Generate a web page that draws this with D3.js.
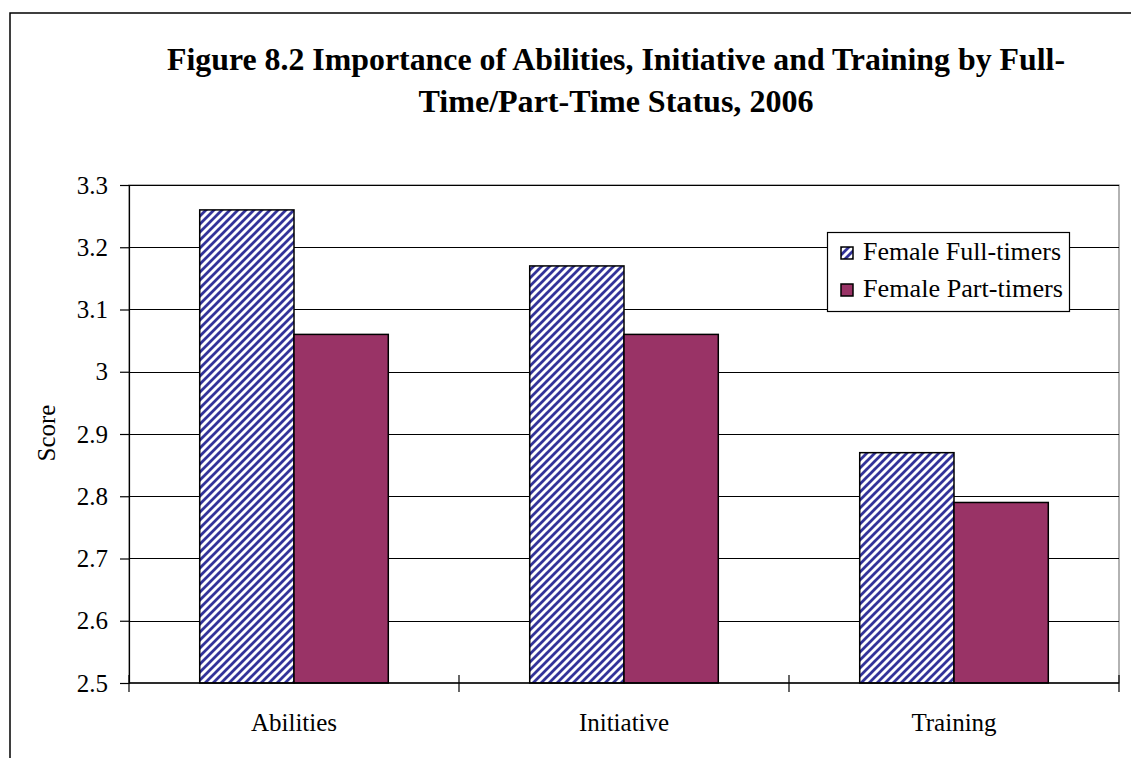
<!DOCTYPE html>
<html>
<head>
<meta charset="utf-8">
<script src="https://cdn.jsdelivr.net/npm/d3@7"></script>
<style>
  html, body { margin: 0; padding: 0; background: #fff; }
  svg { display: block; }
  text { font-family: "Liberation Serif", "Times New Roman", serif; fill: #000; }
</style>
</head>
<body>
<svg id="chart" width="1131" height="758"></svg>
<script>
// ---- data ----
const categories = ["Abilities", "Initiative", "Training"];
const seriesNames = ["Female Full-timers", "Female Part-timers"];
const fullTimers = [3.26, 3.17, 2.87];
const partTimers = [3.06, 3.06, 2.79];
const yTicks = [2.5, 2.6, 2.7, 2.8, 2.9, 3.0, 3.1, 3.2, 3.3];
const yTickLabels = ["2.5", "2.6", "2.7", "2.8", "2.9", "3", "3.1", "3.2", "3.3"];
const titleLines = ["Figure 8.2 Importance of Abilities, Initiative and Training by Full-",
                    "Time/Part-Time Status, 2006"];
const yTitle = "Score";

// ---- layout ----
const W = 1131, H = 758;
const plot = { left: 129, right: 1119, top: 185, bottom: 683 };
const svg = d3.select("#chart");

const defs = svg.append("defs");
const pat = defs.append("pattern")
  .attr("id", "hatch").attr("patternUnits", "userSpaceOnUse")
  .attr("width", 8).attr("height", 8);
pat.append("rect").attr("width", 8).attr("height", 8).attr("fill", "#fff");
pat.append("path")
  .attr("d", "M-2,2 L2,-2 M0,8 L8,0 M6,10 L10,6")
  .attr("stroke", "#333399").attr("stroke-width", 2.8);

// outer frame
svg.append("path").attr("d", `M10,${H} V13 H${W}`)
  .attr("fill", "none").attr("stroke", "#000").attr("stroke-width", 1.5);

// title
const titleWidths = [898, 395];
const titleY = [70, 112];
svg.selectAll("text.title").data(titleLines).join("text")
  .attr("class", "title")
  .attr("x", 616).attr("y", (d, i) => titleY[i])
  .attr("text-anchor", "middle")
  .attr("font-size", 32).attr("font-weight", "bold")
  .attr("textLength", (d, i) => titleWidths[i]).attr("lengthAdjust", "spacingAndGlyphs")
  .text(d => d);

// scales
const y = d3.scaleLinear().domain([2.5, 3.3]).range([plot.bottom, plot.top]);
const x0 = d3.scaleBand().domain(categories).range([plot.left, plot.right]).padding(0);
const x1 = d3.scaleBand().domain(seriesNames).range([0, x0.bandwidth()])
  .paddingInner(0).paddingOuter(0.75);

// plot area border
svg.append("rect")
  .attr("x", plot.left).attr("y", plot.top)
  .attr("width", plot.right - plot.left).attr("height", plot.bottom - plot.top)
  .attr("fill", "#fff").attr("stroke", "#808080").attr("stroke-width", 1.2);

// gridlines
svg.append("g").selectAll("line").data(yTicks.slice(1)).join("line")
  .attr("x1", plot.left).attr("x2", plot.right)
  .attr("y1", d => Math.round(y(d)) + 0.5).attr("y2", d => Math.round(y(d)) + 0.5)
  .attr("stroke", "#000").attr("stroke-width", 1);

// bars
const fills = ["url(#hatch)", "#993366"];
const seriesVals = [fullTimers, partTimers];
const barG = svg.append("g");
seriesNames.forEach((s, si) => {
  barG.selectAll("rect.s" + si).data(categories).join("rect")
    .attr("class", "s" + si)
    .attr("x", c => x0(c) + x1(s))
    .attr("y", (c, i) => y(seriesVals[si][i]))
    .attr("width", x1.bandwidth())
    .attr("height", (c, i) => y(2.5) - y(seriesVals[si][i]))
    .attr("fill", fills[si])
    .attr("stroke", "#000").attr("stroke-width", 1.5);
});

// y axis
const yAxis = d3.axisLeft(y).tickValues(yTicks)
  .tickFormat((d, i) => yTickLabels[i]).tickSize(9).tickPadding(12);
const gy = svg.append("g").attr("transform", `translate(${plot.left},0)`).call(yAxis);
gy.select(".domain").attr("stroke", "#000").attr("stroke-width", 1.2);
gy.selectAll(".tick line").attr("stroke", "#000").attr("stroke-width", 1.2);
gy.selectAll(".tick text").attr("font-size", 25)
  .attr("font-family", "Liberation Serif").attr("fill", "#000");

// x axis
svg.append("line").attr("x1", plot.left).attr("x2", plot.right)
  .attr("y1", plot.bottom).attr("y2", plot.bottom)
  .attr("stroke", "#000").attr("stroke-width", 1.5);
const boundaries = categories.map(c => x0(c)).concat([x0(categories[categories.length - 1]) + x0.bandwidth()]);
svg.append("g").selectAll("line").data(boundaries).join("line")
  .attr("x1", d => d).attr("x2", d => d)
  .attr("y1", plot.bottom - 8).attr("y2", plot.bottom + 9)
  .attr("stroke", "#000").attr("stroke-width", 1.2);
svg.append("g").selectAll("text").data(categories).join("text")
  .attr("x", c => x0(c) + x0.bandwidth() / 2).attr("y", 731)
  .attr("text-anchor", "middle").attr("font-size", 25)
  .text(c => c);

// y title
svg.append("text")
  .attr("transform", `translate(55,433) rotate(-90)`)
  .attr("text-anchor", "middle").attr("font-size", 25)
  .text(yTitle);

// legend
const lg = svg.append("g");
lg.append("rect").attr("x", 827.5).attr("y", 232.5).attr("width", 242).attr("height", 79)
  .attr("fill", "#fff").attr("stroke", "#000").attr("stroke-width", 1.2);
const legY = [253, 290];
const legTextW = [198, 200];
seriesNames.forEach((s, i) => {
  lg.append("rect").attr("x", 841).attr("y", legY[i] - 6).attr("width", 12).attr("height", 12)
    .attr("fill", fills[i]).attr("stroke", "#000").attr("stroke-width", 1.5);
  lg.append("text").attr("x", 863).attr("y", legY[i] + 7)
    .attr("font-size", 25)
    .attr("textLength", legTextW[i]).attr("lengthAdjust", "spacingAndGlyphs")
    .text(s);
});
</script>
</body>
</html>
